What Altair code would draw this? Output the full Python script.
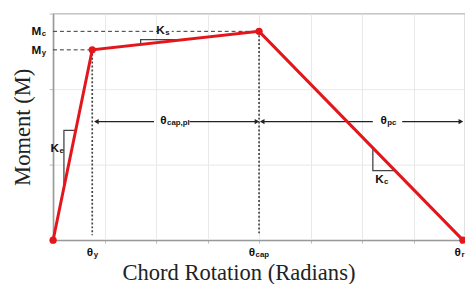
import altair as alt
import pandas as pd

# Backbone curve (chord rotation vs moment)
theta = [0.0, 0.76, 4.0, 7.96]      # origin, yield, capping, ultimate
moment = [0.0, 5.04, 5.53, 0.0]
point_names = ["origin", "yield", "cap", "ultimate"]

# reference lines
ref_h_y = [5.53, 5.04]          # Mc, My
ref_h_x = [4.0, 0.76]           # run to theta_cap, theta_y
ref_v_x = [0.76, 4.0]           # theta_y, theta_cap
ref_v_top = [5.04, 5.53]
ref_v_bottom = [0.13, 0.18]

# span arrows (theta_cap,pl and theta_pc)
arrow_y = 3.14
arrow_start = [0.84, 4.06]
arrow_end = [3.96, 7.92]
arrow_gap_lo = [1.96, 6.21]
arrow_gap_hi = [2.65, 6.78]
arrow_label_x = [2.30, 6.50]

# slope triangles (Ke, Ks, Kc): three vertices each
tri_names = ["Ke"] * 3 + ["Ks"] * 3 + ["Kc"] * 3
tri_x = [0.21, 0.21, 0.44, 1.70, 1.70, 2.55, 6.21, 6.21, 6.64]
tri_y = [1.39, 2.91, 2.91, 5.18, 5.31, 5.31, 2.44, 1.84, 1.84]
tri_order = [0, 1, 2] * 3

# labels: main glyph, subscript, anchor
lab_main = ["M", "M", "θ", "θ", "θ", "θ", "θ", "K", "K", "K"]
lab_sub = ["c", "y", "y", "cap", "r", "cap,pl", "pc", "e", "s", "c"]
lab_x = [0.0, 0.0, 0.76, 4.0, 7.96, 2.30, 6.50, 0.0, 2.17, 6.21]
lab_y = [5.53, 5.04, 0.0, 0.0, 0.0, 3.14, 3.14, 2.44, 5.53, 1.84]
lab_dx = [-12, -12, 1, -4, -2, -5, -1, 6, 0, 11]
lab_dy = [0, 0, 12, 12, 12, -2, -2, 0, -1, 9]

RED = "#e3161c"
DARK = "#333333"

W, H = 420, 231
xs = alt.Scale(domain=[0, 8], nice=False)
ys = alt.Scale(domain=[0, 6], nice=False)

curve = pd.DataFrame({"x": theta, "y": moment, "name": point_names,
                      "i": list(range(len(theta)))})

xax = alt.Axis(values=list(range(9)), labels=False, tickSize=3,
               title="Chord Rotation (Radians)", titleFont="Liberation Serif",
               titleFontSize=23, titleFontWeight="normal", titleColor="#222",
               titlePadding=19, titleX=189, titleAnchor="start", titleAlign="center")
yax = alt.Axis(values=list(range(7)), labels=False, tickSize=4,
               title="Moment (M)", titleFont="Liberation Serif",
               titleFontSize=23, titleFontWeight="normal", titleColor="#222",
               titlePadding=15)

line = alt.Chart(curve).mark_line(color=RED, strokeWidth=3).encode(
    x=alt.X("x:Q", scale=xs, axis=xax),
    y=alt.Y("y:Q", scale=ys, axis=yax),
    order="i:Q",
)
pts = alt.Chart(curve).mark_circle(color=RED, size=55, opacity=1).encode(
    x=alt.X("x:Q", scale=xs), y=alt.Y("y:Q", scale=ys))

hdf = pd.DataFrame({"x0": [0.0, 0.0], "x1": ref_h_x, "y": ref_h_y})
hdash = alt.Chart(hdf).mark_rule(color=DARK, strokeWidth=1, strokeDash=[4, 3]).encode(
    x=alt.X("x0:Q", scale=xs), x2="x1:Q", y=alt.Y("y:Q", scale=ys))

vdf = pd.DataFrame({"x": ref_v_x, "y0": ref_v_top, "y1": ref_v_bottom})
vdot = alt.Chart(vdf).mark_rule(color="#444", strokeWidth=1.7, strokeDash=[2, 2]).encode(
    x=alt.X("x:Q", scale=xs), y=alt.Y("y0:Q", scale=ys), y2="y1:Q")

seg_x0 = arrow_start + arrow_gap_hi
seg_x1 = arrow_gap_lo + arrow_end
adf = pd.DataFrame({"x0": seg_x0, "x1": seg_x1, "y": [arrow_y] * 4})
arrows = alt.Chart(adf).mark_rule(color="#222", strokeWidth=1.2).encode(
    x=alt.X("x0:Q", scale=xs), x2="x1:Q", y=alt.Y("y:Q", scale=ys))

hl = pd.DataFrame({"x": arrow_start, "y": [arrow_y] * 2})
hr = pd.DataFrame({"x": arrow_end, "y": [arrow_y] * 2})
head_l = alt.Chart(hl).mark_point(shape="triangle-left", filled=True, color="#222",
                                  size=30, opacity=1, dx=2).encode(
    x=alt.X("x:Q", scale=xs), y=alt.Y("y:Q", scale=ys))
head_r = alt.Chart(hr).mark_point(shape="triangle-right", filled=True, color="#222",
                                  size=30, opacity=1, dx=-2).encode(
    x=alt.X("x:Q", scale=xs), y=alt.Y("y:Q", scale=ys))

tdf = pd.DataFrame({"x": tri_x, "y": tri_y, "k": tri_names, "o": tri_order})
tris = alt.Chart(tdf).mark_line(color="#444", strokeWidth=1.3).encode(
    x=alt.X("x:Q", scale=xs), y=alt.Y("y:Q", scale=ys), detail="k:N", order="o:Q")

# white patch behind Ks label on the dashed line
ks = pd.DataFrame({"x": [lab_x[8]], "y": [lab_y[8]]})
ks_bg = alt.Chart(ks).mark_square(color="white", size=200, opacity=1, dx=-1).encode(
    x=alt.X("x:Q", scale=xs), y=alt.Y("y:Q", scale=ys))

layers = [hdash, vdot, arrows, head_l, head_r, tris, line, pts, ks_bg]
for m, s, x, y, dx, dy in zip(lab_main, lab_sub, lab_x, lab_y, lab_dx, lab_dy):
    d = pd.DataFrame({"x": [x], "y": [y], "m": [m], "s": [s]})
    base = alt.Chart(d)
    layers.append(base.mark_text(font="Liberation Sans", fontWeight="bold", fontSize=12,
                                 align="right", baseline="middle", dx=dx, dy=dy,
                                 color="#111").encode(
        x=alt.X("x:Q", scale=xs), y=alt.Y("y:Q", scale=ys), text="m:N"))
    layers.append(base.mark_text(font="Liberation Sans", fontWeight="bold", fontSize=8,
                                 align="left", baseline="middle", dx=dx + 0.5, dy=dy + 3,
                                 color="#111").encode(
        x=alt.X("x:Q", scale=xs), y=alt.Y("y:Q", scale=ys), text="s:N"))

chart = alt.layer(*layers).properties(
    width=W, height=H,
    autosize=alt.AutoSizeParams(type="none"),
    padding={"left": 46, "top": 3, "right": 0, "bottom": 42},
).configure_view(stroke="#999", strokeWidth=1.2).configure_axis(
    domainColor="#999", domainWidth=1.5, tickColor="#bbb", gridColor="#e8e8e8",
    gridWidth=1,
)

chart.save("out.html", embed_options={"renderer": "svg", "actions": False})
